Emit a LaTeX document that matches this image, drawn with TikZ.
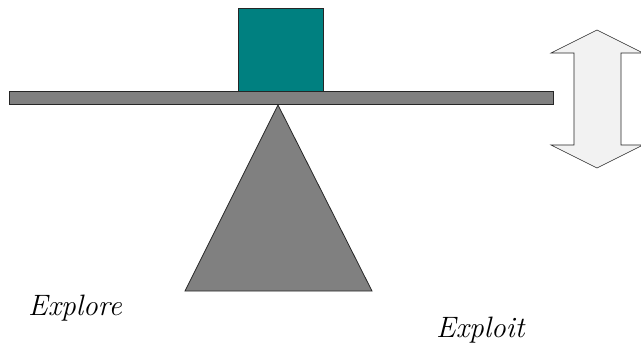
\documentclass[tikz,border=0pt]{standalone}
\begin{document}
\begin{tikzpicture}[x=1pt,y=-1pt,
  solidpart/.style={draw=black!85,line width=0.8pt},
  lbl/.style={font=\rmfamily\fontsize{29.5}{32}\selectfont\itshape,anchor=base west,inner sep=0pt}]
\useasboundingbox (0,0) rectangle (641,345);
\fill[white] (0,0) rectangle (641,345);
% fulcrum
\draw[solidpart,fill={rgb,255:red,128;green,128;blue,128}] (278,105) coordinate (apex) -- (372,291) -- (185,291) -- cycle;
% beam
\draw[solidpart,fill={rgb,255:red,128;green,128;blue,128}] (9,91) rectangle (553,104);
% weight
\draw[solidpart,fill={rgb,255:red,0;green,128;blue,128}] (238,8) rectangle (323,91);
% double arrow
\draw[solidpart,line width=0.6pt,fill={rgb,255:red,242;green,242;blue,242}]
  (597,30) -- (643,53) -- (621,53) -- (621,145) -- (643,145) -- (597,168)
  -- (551,145) -- (574,145) -- (574,53) -- (551,53) -- cycle;
\node[lbl] (explore) at (28,315) {Explore};
\node[lbl] (exploit) at (436,337) {Exploit};
\end{tikzpicture}
\end{document}
